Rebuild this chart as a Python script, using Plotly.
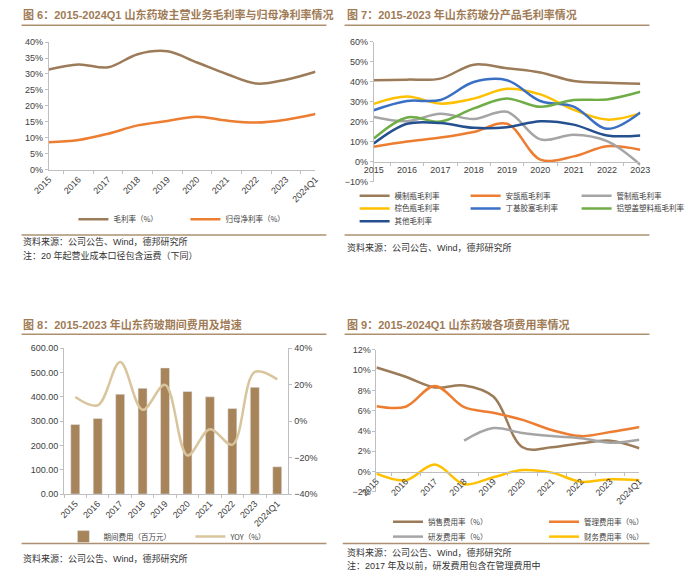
import plotly.graph_objects as go

# ---------------- data ----------------
cats_a = ['2015', '2016', '2017', '2018', '2019', '2020', '2021', '2022', '2023', '2024Q1']
gross_margin = [31.4, 33.0, 32.1, 36.2, 37.1, 33.6, 30.0, 27.0, 28.2, 30.7]
net_margin = [8.6, 9.3, 11.3, 13.9, 15.3, 16.6, 15.4, 14.8, 15.7, 17.5]

cats_b = ['2015', '2016', '2017', '2018', '2019', '2020', '2021', '2022', '2023']
molded = [40.7, 41.0, 41.5, 48.5, 46.7, 44.6, 40.3, 39.5, 39.0]
ampoule = [7.4, 10.0, 12.0, 14.8, 18.9, 1.0, 2.6, 7.7, 5.9]
tubular = [22.3, 20.2, 23.9, 21.3, 24.9, 11.1, 13.4, 10.2, -1.6]
amber = [28.9, 32.5, 29.0, 31.5, 36.4, 33.6, 25.9, 21.0, 24.1]
butyl = [25.7, 30.3, 30.8, 39.8, 40.7, 30.3, 27.5, 16.4, 24.6]
alu_plastic = [11.5, 22.1, 20.0, 26.6, 31.5, 27.4, 30.8, 31.1, 34.9]
other = [9.0, 18.9, 19.3, 16.9, 17.2, 20.2, 18.5, 13.1, 13.1]

period_expense = [286, 311, 411, 435, 519, 422, 400, 352, 439, 112]
expense_yoy = [13.2, 8.7, 32.4, 6.2, 19.9, -18.8, -4.4, -12.9, 27.0, 22.9]

sales_rate = [10.26, 9.35, 8.3, 8.5, 7.4, 2.4, 2.4, 2.8, 3.05, 2.3]
admin_rate = [6.45, 6.4, 8.45, 6.35, 5.8, 5.1, 4.1, 3.5, 3.9, 4.4]
rd_rate = [None, None, None, 3.06, 4.3, 3.8, 3.5, 3.3, 2.85, 3.15]
fin_rate = [-0.2, -0.85, 0.7, -1.24, -0.55, 0.15, -0.1, -1.0, -0.75, -0.85]

# ---------------- helpers ----------------
W, H = 700, 576
def px(x): return x / W
def py(y): return 1 - y / H

FNUM = "Liberation Sans, Arial, Noto Sans CJK SC, sans-serif"
FCJK = "Noto Sans CJK SC, Liberation Sans, sans-serif"
TXT = '#404040'
AX = '#bfbfbf'
BROWN = '#9c7b59'
ORANGE = '#ed7d31'
GRAY = '#a5a5a5'
YELLOW = '#ffc000'
BLUE = '#3a6fc4'
GREEN = '#70ad47'
DARKBLUE = '#24508f'
BAR = '#a8845a'
TAN = '#d9c59d'
TITLE_C = '#a07b55'
RULE_C = '#ad9070'

fig = go.Figure()

def line(x, y, name, color, xa, ya, leg):
    fig.add_trace(go.Scatter(x=x, y=y, name=name, mode='lines',
                             line=dict(color=color, width=2.5, shape='spline', smoothing=1),
                             xaxis=xa, yaxis=ya, legend=leg, connectgaps=False))

# panel 1
line(cats_a, gross_margin, '毛利率（%）', BROWN, 'x', 'y', 'legend')
line(cats_a, net_margin, '归母净利率（%）', ORANGE, 'x', 'y', 'legend')

# panel 2
line(cats_b, molded, '模制瓶毛利率', BROWN, 'x2', 'y2', 'legend2')
line(cats_b, ampoule, '安瓿瓶毛利率', ORANGE, 'x2', 'y2', 'legend2')
line(cats_b, tubular, '管制瓶毛利率', GRAY, 'x2', 'y2', 'legend2')
line(cats_b, amber, '棕色瓶毛利率', YELLOW, 'x2', 'y2', 'legend3')
line(cats_b, butyl, '丁基胶塞毛利率', BLUE, 'x2', 'y2', 'legend3')
line(cats_b, alu_plastic, '铝塑盖塑料瓶毛利率', GREEN, 'x2', 'y2', 'legend3')
line(cats_b, other, '其他毛利率', DARKBLUE, 'x2', 'y2', 'legend4')

# panel 3
fig.add_trace(go.Bar(x=cats_a, y=period_expense, name='期间费用（百万元）', marker_color=BAR,
                     xaxis='x3', yaxis='y3', legend='legend5'))
line(cats_a, expense_yoy, 'YOY（%）', TAN, 'x3', 'y4', 'legend5')

# panel 4
line(cats_a, sales_rate, '销售费用率（%）', BROWN, 'x4', 'y5', 'legend6')
line(cats_a, admin_rate, '管理费用率（%）', ORANGE, 'x4', 'y5', 'legend6')
line(cats_a, rd_rate, '研发费用率（%）', GRAY, 'x4', 'y5', 'legend7')
line(cats_a, fin_rate, '财务费用率（%）', YELLOW, 'x4', 'y5', 'legend7')

tickfont = dict(family=FNUM, size=9, color=TXT)

def xax(domain, **kw):
    d = dict(type='category', domain=domain, showline=True, linecolor=AX, linewidth=1,
             ticks='outside', tickcolor=AX, ticklen=3, tickson='boundaries',
             showgrid=False, zeroline=False, tickfont=tickfont, fixedrange=True)
    d.update(kw)
    return d

def yax(domain, **kw):
    d = dict(domain=domain, showline=True, linecolor=AX, linewidth=1,
             ticks='outside', tickcolor=AX, ticklen=3, showgrid=False, zeroline=False,
             tickfont=tickfont, fixedrange=True)
    d.update(kw)
    return d

def legend(xpix, ypix, spacing):
    return dict(orientation='h', x=px(xpix), y=py(ypix), xanchor='left', yanchor='middle',
                font=dict(family=FCJK, size=7.5, color=TXT), bgcolor='rgba(0,0,0,0)',
                itemwidth=30, entrywidth=spacing - 43, entrywidthmode='pixels', tracegroupgap=0,
                itemclick=False, itemdoubleclick=False)

fig.update_layout(
    width=W, height=H, margin=dict(l=0, r=0, t=0, b=0),
    paper_bgcolor='white', plot_bgcolor='white', bargap=0.6,
    showlegend=True,
    # panel 1
    xaxis=xax([px(35), px(328)], anchor='y', tickangle=-45),
    yaxis=yax([py(167.7), py(37.7)], anchor='x', range=[0, 40], dtick=5, ticksuffix='%'),
    # panel 2
    xaxis2=xax([px(392), px(685)], anchor='free', position=py(159.3), tickangle=0),
    yaxis2=yax([py(179.7), py(37.3)], anchor='x2', range=[-10, 60], dtick=10, ticksuffix='%'),
    # panel 3
    xaxis3=xax([px(51.7), px(298.3)], anchor='y3', tickangle=-45),
    yaxis3=yax([py(497.7), py(349.3)], anchor='x3', range=[0, 600], dtick=100, tickformat='.2f'),
    yaxis4=yax([py(497.7), py(349.3)], anchor='x3', overlaying='y3', side='right',
               range=[-40, 40], dtick=20, ticksuffix='%'),
    # panel 4
    xaxis4=xax([px(395), px(684)], anchor='free', position=py(475), tickangle=-45),
    yaxis5=yax([py(495.5), py(351)], anchor='x4', range=[-2, 12], dtick=2, ticksuffix='%'),
    legend=legend(62, 218, 110),
    legend2=legend(371, 194, 109),
    legend3=legend(371, 207, 109),
    legend4=legend(371, 220, 109),
    legend5=legend(51, 541, 125),
    legend6=legend(408, 526, 154),
    legend7=legend(408, 541, 154),
)

# rules
shapes = []
for (x0, x1, y) in [(5, 340, 20.5), (360, 695, 20.5), (5, 340, 234), (360, 695, 234),
                    (5, 340, 335), (360, 695, 335), (5, 340, 548), (358, 695, 548)]:
    shapes.append(dict(type='line', xref='paper', yref='paper', x0=px(x0), x1=px(x1),
                       y0=py(y), y1=py(y), line=dict(color=RULE_C, width=1.5)))
fig.update_layout(shapes=shapes)

ann = []
def text(x, y, s, size=9, color='#333333', bold=False):
    ann.append(dict(xref='paper', yref='paper', x=px(x), y=py(y), text=s, showarrow=False,
                    xanchor='left', yanchor='middle',
                    font=dict(family=FNUM, size=size, color=color, weight=700 if bold else 400)))

text(4, 10, '图 6：2015-2024Q1 山东药玻主营业务毛利率与归母净利率情况', size=11, color=TITLE_C, bold=True)
text(360, 10, '图 7：2015-2023 年山东药玻分产品毛利率情况', size=11, color=TITLE_C, bold=True)
text(4, 325, '图 8：2015-2023 年山东药玻期间费用及增速', size=11, color=TITLE_C, bold=True)
text(360, 325, '图 9：2015-2024Q1 山东药玻各项费用率情况', size=11, color=TITLE_C, bold=True)

text(4, 241, '资料来源：公司公告、Wind，德邦研究所')
text(4, 255, '注：20 年起营业成本口径包含运费（下同）')
text(360, 247, '资料来源：公司公告、Wind，德邦研究所')
text(4, 563, '资料来源：公司公告、Wind，德邦研究所')
text(360, 557, '资料来源：公司公告、Wind，德邦研究所')
text(360, 570, '注：2017 年及以前，研发费用包含在管理费用中')
fig.update_layout(annotations=ann)

fig.write_html("out.html", config={'displayModeBar': False, 'staticPlot': False},
               post_script="document.body.style.margin='0';document.body.style.overflow='hidden';")
